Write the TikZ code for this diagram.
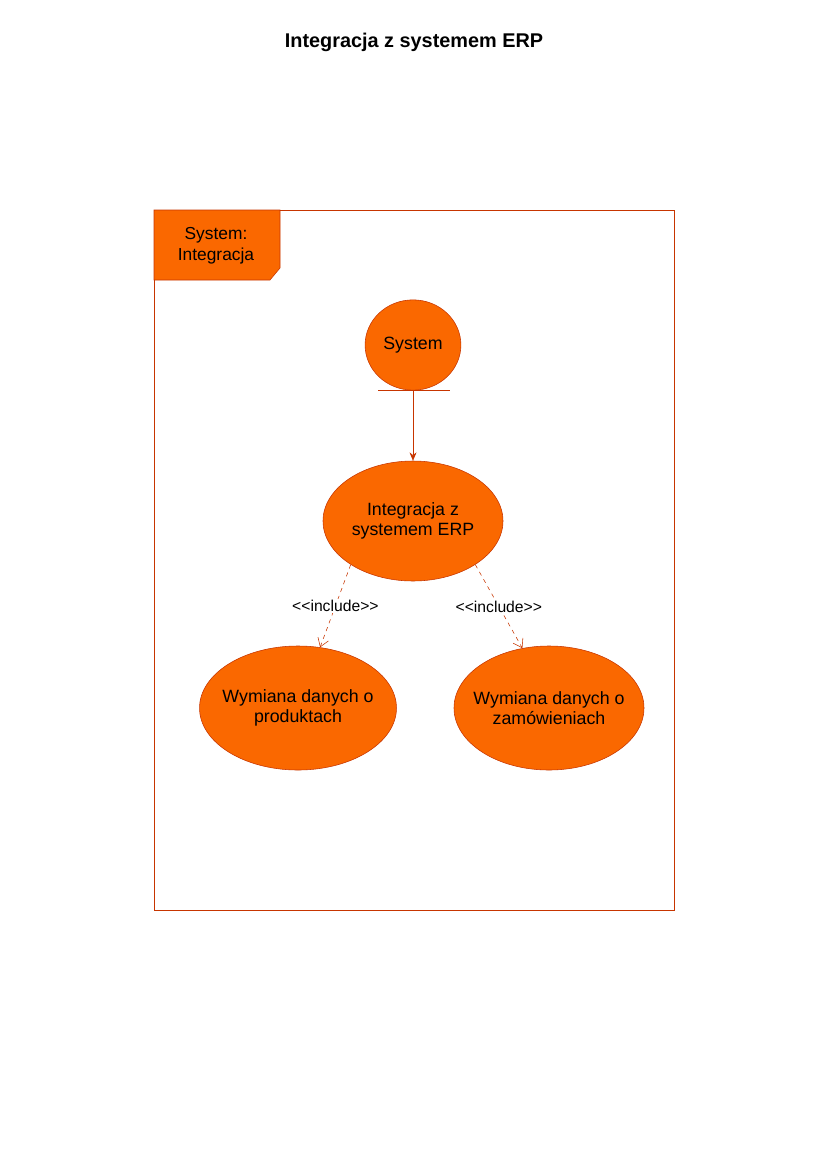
\documentclass[tikz,border=0pt]{standalone}
\usepackage{fontspec}
\setmainfont{Liberation Sans}
\usetikzlibrary{shapes.geometric,arrows.meta}
\definecolor{ucfill}{HTML}{FA6800}
\definecolor{ucline}{HTML}{C73500}
\tikzset{
	usecase/.style={ellipse, draw=ucline, fill=ucfill, align=center, font=\fontsize{12.8}{14.4}\selectfont, inner ysep=0pt, inner xsep=-8pt},
	incl/.style={draw=ucline, dashed, -{Straight Barb[length=6pt,width=8pt]}},
	incllabel/.style={fill=white, font=\fontsize{11.3}{13}\selectfont, inner sep=1pt}
}
\begin{document}
\begin{tikzpicture}[x=0.72pt, y=-0.72pt]
		\useasboundingbox (0,0) rectangle (827,1169);
		\node [font=\bfseries\fontsize{14.3}{16}\selectfont](title)at (414,42) {Integracja z systemem ERP};

		\draw [ucline](154,210)rectangle(674,910);
		\draw [ucline, fill=ucfill](154,210)--(280,210)--(280,268)--(270,280)--(154,280)--cycle;
		\node [align=center, font=\fontsize{12.5}{15}\selectfont](frame)at (216,246) {System:\\Integracja};

		\node [usecase, minimum width=69pt, minimum height=65pt](actor)at (413,345) {\raisebox{-2pt}{System}};
		\draw [ucline](actor.south)++(-35,0)--++(72,0);

		\node [usecase, minimum width=129.6pt, minimum height=86.4pt](erp)at (413,521) {Integracja z\\systemem ERP};
		\node [usecase, minimum width=141.8pt, minimum height=89.3pt](prod)at (298,708) {Wymiana danych o\\produktach};
		\node [usecase, minimum width=136.8pt, minimum height=89.3pt](zam)at (549,708) {Wymiana danych o\\zamówieniach};

		\draw [ucline, -{Stealth[length=6pt,width=5pt]}](actor.south)--(erp.north);

		\draw [incl](erp.215)--node[incllabel]{<{}<include>{}>}(prod.70);
		\draw [incl](erp.325)--node[incllabel]{<{}<include>{}>}(zam.114);
	\end{tikzpicture}
\end{document}
